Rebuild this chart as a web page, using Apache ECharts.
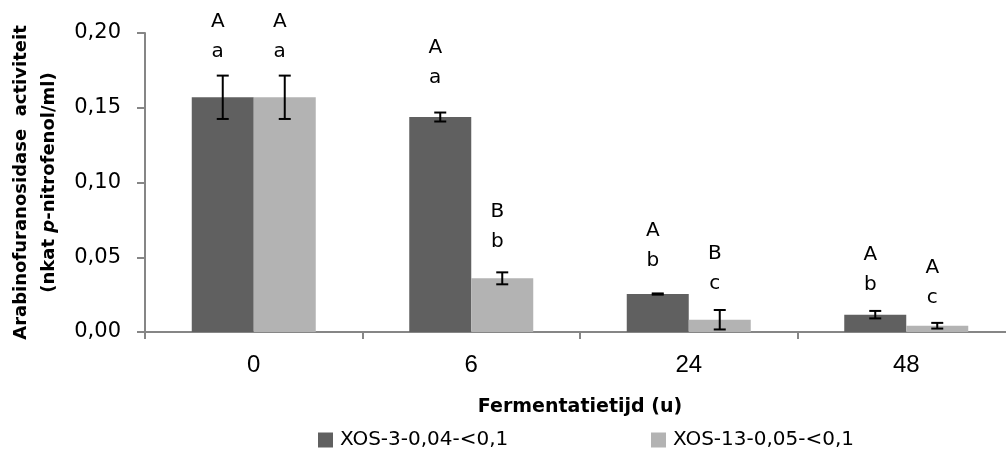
<!DOCTYPE html>
<html>
<head>
<meta charset="utf-8">
<script src="https://cdn.jsdelivr.net/npm/echarts@6/dist/echarts.min.js"></script>
<style>
html,body{margin:0;padding:0;background:#fff;}
#chart{width:1006px;height:455px;}
</style>
</head>
<body>
<div id="chart"></div>
<script>
// ---- data ----
var categories = ['0', '6', '24', '48'];
var seriesNames = ['XOS-3-0,04-<0,1', 'XOS-13-0,05-<0,1'];
var xos3 = [0.157, 0.1438, 0.0254, 0.0116];
var xos3Err = [0.0145, 0.003, 0.0004, 0.0025];
var xos13 = [0.157, 0.0359, 0.0082, 0.0042];
var xos13Err = [0.0145, 0.004, 0.0065, 0.0019];
var xos3Letters = ['A\na', 'A\na', 'A\nb', 'A\nb'];
var xos13Letters = ['A\na', 'B\nb', 'B\nc', 'A\nc'];
var xos3LetterY = [0.1973, 0.1801, 0.0577, 0.0417];
var xos13LetterY = [0.1973, 0.0704, 0.0423, 0.033];

// ---- style ----
var FONT = '"DejaVu Sans", sans-serif';
var FONT_X = '"Liberation Sans", Arial, sans-serif';
var BAR_W = 62;
var DARK = '#606060', LIGHT = '#b3b3b3', AXIS = '#868686';

function errData(vals, errs) {
  return vals.map(function (v, i) { return [i, v - errs[i], v + errs[i]]; });
}
function errSeries(vals, errs, offset) {
  return {
    type: 'custom', silent: true, z: 5,
    data: errData(vals, errs),
    renderItem: function (params, api) {
      var lo = api.coord([api.value(0), api.value(1)]);
      var hi = api.coord([api.value(0), api.value(2)]);
      var x = lo[0] + offset, c = 6;
      var st = { stroke: '#000', lineWidth: 2 };
      return { type: 'group', children: [
        { type: 'line', shape: { x1: x, y1: lo[1], x2: x, y2: hi[1] }, style: st },
        { type: 'line', shape: { x1: x - c, y1: lo[1], x2: x + c, y2: lo[1] }, style: st },
        { type: 'line', shape: { x1: x - c, y1: hi[1], x2: x + c, y2: hi[1] }, style: st }
      ]};
    }
  };
}
function letterSeries(ys, letters, offset) {
  return {
    type: 'custom', silent: true, z: 6,
    data: ys.map(function (y, i) { return [i, y]; }),
    renderItem: function (params, api) {
      var p = api.coord([api.value(0), api.value(1)]);
      return { type: 'text', style: {
        text: letters[params.dataIndex], x: p[0] + offset, y: p[1],
        align: 'center', verticalAlign: 'middle', fill: '#000',
        font: '20px ' + FONT, lineHeight: 30
      }};
    }
  };
}

var legendText = { fontFamily: FONT, fontSize: 20, color: '#000', padding: [0, 0, 0, 2] };
var chart = echarts.init(document.getElementById('chart'), null, { renderer: 'canvas' });
chart.setOption({
  animation: false,
  backgroundColor: '#fff',
  grid: { left: 145, top: 33, width: 870, height: 299, containLabel: false, outerBoundsMode: 'none' },
  legend: [
    { data: [seriesNames[0]], left: 318, top: 430, padding: 0, itemWidth: 15, itemHeight: 15, itemGap: 0,
      icon: 'rect', textStyle: legendText },
    { data: [seriesNames[1]], left: 651, top: 430, padding: 0, itemWidth: 15, itemHeight: 15, itemGap: 0,
      icon: 'rect', textStyle: legendText }
  ],
  xAxis: {
    type: 'category', data: categories,
    axisLine: { lineStyle: { color: AXIS, width: 2 } },
    axisTick: { show: true, length: 7, lineStyle: { color: AXIS, width: 2 } },
    axisLabel: { fontFamily: FONT_X, fontSize: 24, color: '#000', margin: 21 },
    name: 'Fermentatietijd (u)', nameLocation: 'middle', nameGap: 66,
    nameTextStyle: { fontFamily: FONT, fontSize: 19, fontWeight: 'bold', color: '#000' }
  },
  yAxis: {
    type: 'value', min: 0, max: 0.2, interval: 0.05,
    splitLine: { show: false },
    axisLine: { show: true, lineStyle: { color: AXIS, width: 2 } },
    axisTick: { show: true, length: 8, lineStyle: { color: AXIS, width: 2 } },
    axisLabel: { fontFamily: FONT, fontSize: 21, color: '#000', margin: 24,
      formatter: function (v) { return v.toFixed(2).replace('.', ','); } },
    name: '{b|Arabinofuranosidase  activiteit}\n{b|(nkat }{i|p}{b|-nitrofenol/ml)}',
    nameLocation: 'middle', nameGap: 80, nameRotate: 90,
    nameTextStyle: {
      fontFamily: FONT, fontSize: 18, fontWeight: 'bold', color: '#000', lineHeight: 28, align: 'center',
      rich: {
        b: { fontFamily: FONT, fontSize: 18, fontWeight: 'bold', color: '#000', lineHeight: 28 },
        i: { fontFamily: FONT, fontSize: 18, fontWeight: 'bold', fontStyle: 'italic', color: '#000', lineHeight: 28 }
      }
    }
  },
  series: [
    { name: seriesNames[0], type: 'bar', data: xos3, barWidth: BAR_W, barGap: '0%',
      itemStyle: { color: DARK } },
    { name: seriesNames[1], type: 'bar', data: xos13, barWidth: BAR_W, barGap: '0%',
      itemStyle: { color: LIGHT } },
    errSeries(xos3, xos3Err, -BAR_W / 2),
    errSeries(xos13, xos13Err, BAR_W / 2),
    letterSeries(xos3LetterY, xos3Letters, -BAR_W / 2 - 5),
    letterSeries(xos13LetterY, xos13Letters, BAR_W / 2 - 5)
  ]
});
</script>
</body>
</html>
